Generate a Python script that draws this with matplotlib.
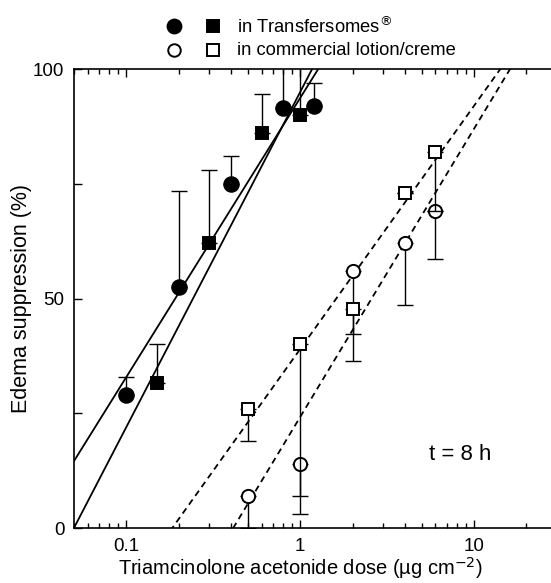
import numpy as np
import matplotlib
matplotlib.use("Agg")
import matplotlib.pyplot as plt
from matplotlib.lines import Line2D
from matplotlib.ticker import LogLocator, FixedLocator, NullFormatter

plt.rcParams['font.family'] = ['Liberation Sans', 'DejaVu Sans']

# data (dose in ug/cm2, suppression in %)
tf_circ_x = [0.1, 0.2, 0.4, 0.8, 1.2]
tf_circ_y = [29, 52.5, 75, 91.5, 92]
tf_circ_up = [33, 73.5, 81, 110, 97]

tf_sq_x = [0.15, 0.3, 0.6, 1.0]
tf_sq_y = [31.5, 62, 86, 90]
tf_sq_up = [40.2, 78, 94.5, 110]

cl_circ_x = [0.5, 1.0, 2.0, 4.0, 6.0]
cl_circ_y = [7, 14, 56, 62, 69]
cl_circ_lo = [0, 3, 36.3, 48.5, 58.7]

cl_sq_x = [0.5, 1.0, 2.0, 4.0, 6.0]
cl_sq_y = [26, 40, 47.8, 73, 82]
cl_sq_lo = [19, 7, 42.2, 73, 69]

# fitted lines: y = a + b*log10(x)
fit_a = [93.7, 95.0, 39.0, 24.2]
fit_b = [60.8, 73.0, 53.0, 62.8]
fit_style = ['-', '-', '--', '--']

fig = plt.figure(figsize=(5.51, 5.83), dpi=100)
ax = fig.add_axes([0.1343, 0.0943, 0.8657, 0.7873])

xs = np.logspace(np.log10(0.05), np.log10(30), 200)
for a, b, ls in zip(fit_a, fit_b, fit_style):
    line, = ax.plot(xs, a + b * np.log10(xs), color='black', lw=1.3, ls=ls)
    if ls == '--':
        line.set_dashes((3.5, 2.5))

def bars(x, y, end, ms, mfc, marker):
    y = np.array(y); end = np.array(end)
    up = np.clip(end - y, 0, None)
    lo = np.clip(y - end, 0, None)
    ax.errorbar(x, y, yerr=[lo, up], fmt='none', ecolor='black', elinewidth=1.0,
                capsize=6, capthick=1.0)
    ax.plot(x, y, ls='none', marker=marker, ms=ms, mfc=mfc, mec='black', mew=1.4)

bars(tf_circ_x, tf_circ_y, tf_circ_up, 10.5, 'black', 'o')
bars(tf_sq_x, tf_sq_y, tf_sq_up, 9, 'black', 's')
bars(cl_circ_x, cl_circ_y, cl_circ_lo, 9.5, 'white', 'o')
bars(cl_sq_x, cl_sq_y, cl_sq_lo, 8.5, 'white', 's')

ax.set_xscale('log')
ax.set_xlim(0.05, 27.7)
ax.set_ylim(0, 100)
ax.xaxis.set_major_locator(FixedLocator([0.1, 1, 10]))
ax.set_xticklabels(['0.1', '1', '10'])
ax.xaxis.set_minor_locator(LogLocator(base=10, subs=np.arange(2, 10)))
ax.xaxis.set_minor_formatter(NullFormatter())
ax.set_yticks([0, 25, 50, 75, 100])
ax.set_yticklabels(['0', '', '50', '', '100'])
ax.tick_params(which='both', direction='in', top=True, right=False, labelsize=13.5, width=1)
ax.tick_params(which='major', length=6, pad=7)
ax.tick_params(which='minor', length=3.5)
ax.spines['right'].set_visible(False)
for s in ['left', 'top', 'bottom']:
    ax.spines[s].set_linewidth(1.2)

ax.set_xlabel('Triamcinolone acetonide dose (µg cm$^{-2}$)', fontsize=14.5)
ax.xaxis.set_label_coords(0.474, -0.058)
ax.set_ylabel('Edema suppression (%)', fontsize=15.5)
ax.yaxis.set_label_coords(-0.088, 0.5)
ax.text(8.3, 16, 't = 8 h', fontsize=16, ha='center', va='center')

# legend drawn above the axes
leg_rows = [(0.955, 'black', 'in Transfersomes$^{\\circledR}$'),
            (0.914, 'white', 'in commercial lotion/creme')]
for yy, fc, label in leg_rows:
    fig.add_artist(Line2D([0.316], [yy], marker='o', ms=10 if fc == 'black' else 9,
                          mfc=fc, mec='black', mew=1.4, transform=fig.transFigure))
    fig.add_artist(Line2D([0.387], [yy], marker='s', ms=8.5 if fc == 'black' else 8,
                          mfc=fc, mec='black', mew=1.4, transform=fig.transFigure))
    fig.text(0.43, yy, label, fontsize=13.2, va='center', ha='left')

fig.savefig('out.png', dpi=100)
